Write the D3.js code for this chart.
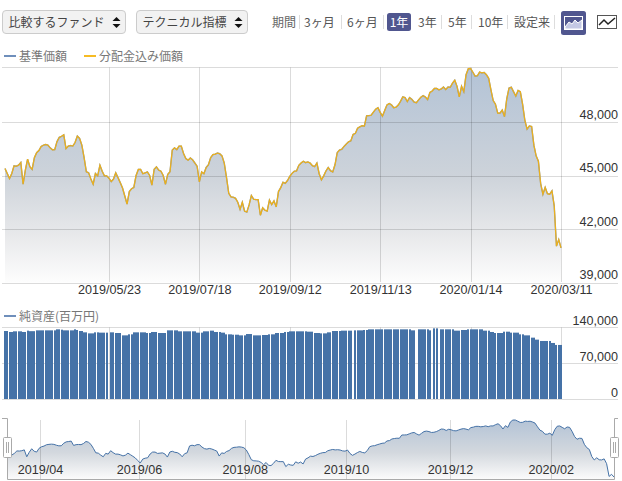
<!DOCTYPE html>
<html><head><meta charset="utf-8">
<script src="https://cdn.jsdelivr.net/npm/d3@7"></script>
<style>
html,body{margin:0;padding:0;background:#fff}
svg{display:block}
text{font-family:"Liberation Sans",Arial,sans-serif;}
.jp{font-family:"Noto Sans CJK JP","Liberation Sans",sans-serif;}
.axis path,.axis line{display:none}
.axis text{font-family:"Liberation Sans",Arial,sans-serif;font-size:12.6px;fill:#333}
</style></head><body>
<svg id="c" width="622" height="481"></svg>
<script>
const basePrice=[
45390,45110,44830,45110,45540,45520,45580,45730,44510,45300,
45920,45490,45340,46000,46280,46400,46630,46700,46740,46700,
46550,46440,46450,46900,47140,47200,47280,46510,46650,46680,
46650,46850,47210,47080,46700,46000,45210,45150,44800,44510,
45110,44980,45580,45240,44980,44980,44850,44660,44800,45150,
44880,44600,44300,43850,43400,44100,44260,44330,45000,45340,
45340,45100,45150,45200,45000,44460,45350,45480,45300,45240,
45000,44510,45060,45210,46420,46550,46450,46650,46650,46230,
45950,45860,45980,45880,45700,45520,44640,45200,45100,45450,
45600,46000,46170,46200,46260,46220,46100,45700,44900,44000,
43800,43780,43720,43500,43100,43500,43000,42950,43350,43880,
43670,43650,43650,42770,43190,43050,43000,43620,43370,43580,
43240,44100,44320,44620,44560,44720,44950,45120,45240,45260,
45570,45700,45800,45720,45760,45700,45550,45500,45700,45100,
44760,44980,45250,45450,45270,45200,45600,46280,46430,46470,
46630,46760,46890,46940,47300,47360,47650,47730,47790,47770,
48350,48360,48380,48550,48720,48800,48540,48330,48650,48960,
49040,48960,48800,48830,48950,49160,49410,49370,49150,49370,
49270,49120,49080,49240,49390,49480,49400,49260,49660,49740,
49880,49880,49800,49850,49960,49820,49960,49950,50180,50340,
50000,49410,50000,49700,50650,50990,51000,50790,50570,50590,
50800,50750,50780,50650,50450,49800,49200,49000,48500,48500,
48670,48300,49300,49900,49950,49700,49450,49770,49700,49000,
48100,47600,47780,47750,46700,46100,45800,44550,43950,44330,
43980,43950,44140,43300,41040,41410,40940];
const totalReturnPrice=basePrice;
const netAssets=[
134100,134100,132200,132200,133500,133500,133500,133500,132200,132200,
134800,133800,133800,133800,135400,135400,135400,135400,135400,135400,
135400,135400,135400,137400,137400,136700,135400,135400,135400,135400,
135400,137400,136100,134100,134100,131500,131500,129500,129500,129500,
131500,131500,130900,130900,130900,130900,null,131500,131500,130200,
130200,130200,125600,125600,125600,127600,127600,131500,131500,131500,
131500,131500,131500,130200,130200,132200,132200,132200,130200,130200,
130200,130200,135400,135400,135400,135400,135400,133500,133500,133500,
133500,133500,133500,133500,133500,130900,130900,130900,133500,133500,
133500,134800,134800,132200,132200,132200,130900,130900,127600,127600,
127600,126900,126900,126900,125600,125600,125600,128200,128200,128200,
125600,125600,125600,125600,126300,126300,126300,127600,127600,127600,
130200,130200,130200,130200,132200,132200,133500,133500,133500,133500,
133500,133500,133500,133500,132800,132800,132800,130200,130200,130200,
129500,129500,129500,131500,131500,134100,134100,134100,134100,134800,
134800,134800,134800,134800,null,135400,135400,135400,135400,136100,
136100,137400,137400,137400,137400,137400,137400,137400,137400,137400,
137400,137400,137400,137400,137400,137400,137400,137400,137400,137400,
135400,135400,null,137400,137400,137400,137400,137400,135400,null,
139300,139300,null,137400,137400,137400,137400,137400,137400,134800,
134800,134800,136100,136100,136100,137400,137400,137400,137400,137400,
137400,137400,134800,134800,134800,132200,132200,130200,130200,130200,
130200,132800,132800,132800,130900,130900,130900,130900,127600,127600,
125600,125600,125600,121100,121100,117200,117200,114600,114600,114600,
114600,114600,110700,110700,106800,106800,106800];
const priceTicks=[39000,42000,45000,48000];
const assetTicks=[0,70000,140000];
const dateTickIndex=[46,86,126,166,206,246];
const dateTickLabels=["2019/05/23","2019/07/18","2019/09/12","2019/11/13","2020/01/14","2020/03/11"];
const navTickIndex=[13.4,53.5,96.4,137.4,179.5,220.4];
const navTickLabels=["2019/04","2019/06","2019/08","2019/10","2019/12","2020/02"];
const periods=["3ヶ月","6ヶ月","1年","3年","5年","10年","設定来"];
const periodX=[304,347,399,418,448,478,514];
const periodSep=[299,341,383,441,471,507,554];

const svg=d3.select("#c");
const defs=svg.append("defs");
function grad(id,stops){const g=defs.append("linearGradient").attr("id",id).attr("x1",0).attr("x2",0).attr("y1",0).attr("y2",1);
 stops.forEach(s=>g.append("stop").attr("offset",s[0]).attr("stop-color",s[1]));}
grad("mainFill",[[0,"#b3c3d6"],[0.5,"#cdd3da"],[0.78,"#e8e9eb"],[1,"#fdfdfd"]]);
grad("navFill",[[0,"#b3c3d6"],[0.55,"#d3d8de"],[1,"#fbfbfb"]]);

const n=basePrice.length;
const x=d3.scaleLinear().domain([0,n-1]).range([5,561]);
const y=d3.scaleLinear().domain([39000,48000]).range([282.5,122]);
const yA=d3.scaleLinear().domain([0,140000]).range([399.5,328]);
const xN=d3.scaleLinear().domain([0,n-1]).range([7,614]);
const yN=d3.scaleLinear().domain([40940,51000]).range([477,420]);

const GRID="rgba(0,0,0,0.14)";
const main=svg.append("g");
main.append("path").datum(basePrice).attr("fill","url(#mainFill)")
 .attr("d",d3.area().x((d,i)=>x(i)).y0(282.5).y1(d=>y(d)));
const hline=(g,yy,x1=2,x2=618)=>g.append("line").attr("x1",x1).attr("x2",x2).attr("y1",yy).attr("y2",yy).attr("stroke",GRID);
hline(main,67.5);
priceTicks.forEach(t=>hline(main,Math.round(y(t))+0.5));
dateTickIndex.forEach(i=>main.append("line").attr("x1",Math.round(x(i))+.5).attr("x2",Math.round(x(i))+.5).attr("y1",67.5).attr("y2",282).attr("stroke",GRID));
const ln=d3.line().x((d,i)=>x(i)).y(d=>y(d));
main.append("path").datum(basePrice).attr("fill","none").attr("stroke","#8c9cb0").attr("stroke-width",1.4).attr("d",ln);
main.append("path").datum(totalReturnPrice).attr("fill","none").attr("stroke","#ecb01a").attr("stroke-width",1.2).attr("d",ln);
const ax=svg.append("g").attr("class","axis").attr("transform","translate(0,282)")
 .call(d3.axisBottom(x).tickValues(dateTickIndex).tickSize(0).tickPadding(2).tickFormat((d,i)=>dateTickLabels[i]));
ax.selectAll("text").attr("y",3).attr("dy","0.71em");
const ay=svg.append("g").attr("class","axis").attr("transform","translate(618,0)")
 .call(d3.axisLeft(y).tickValues(priceTicks).tickSize(0).tickPadding(0).tickFormat(d3.format(",")));
ay.selectAll("text").attr("x",0).attr("dy","-4px").attr("text-anchor","end");

const bars=svg.append("g");
hline(bars,327.5);hline(bars,363.5);hline(bars,399.5);
dateTickIndex.forEach(i=>bars.append("line").attr("x1",Math.round(x(i))+.5).attr("x2",Math.round(x(i))+.5).attr("y1",327.5).attr("y2",399).attr("stroke",GRID));
bars.selectAll("rect").data(netAssets.map((v,i)=>({v,i})).filter(d=>d.v!==null)).join("rect")
 .attr("x",d=>Math.round(x(d.i)-1)).attr("width",2).attr("y",d=>yA(d.v)).attr("height",d=>yA(0)-yA(d.v)-0.5).attr("fill","#4572a7");
const ab=svg.append("g").attr("class","axis").attr("transform","translate(618,0)")
 .call(d3.axisLeft(yA).tickValues(assetTicks).tickSize(0).tickPadding(0).tickFormat(d3.format(",")));
ab.selectAll("text").attr("x",0).attr("dy","-3.5px").attr("text-anchor","end");

const nav=svg.append("g");
nav.append("path").datum(basePrice).attr("fill","url(#navFill)")
 .attr("d",d3.area().x((d,i)=>xN(i)).y0(479).y1(d=>yN(d)));
navTickIndex.forEach(i=>nav.append("line").attr("x1",Math.round(xN(i))+.5).attr("x2",Math.round(xN(i))+.5).attr("y1",420).attr("y2",479).attr("stroke",GRID));
nav.append("path").datum(basePrice).attr("fill","none").attr("stroke","#4572a7").attr("stroke-width",1)
 .attr("d",d3.line().x((d,i)=>xN(i)).y(d=>yN(d)));
const an=svg.append("g").attr("class","axis").attr("transform","translate(0,463)")
 .call(d3.axisBottom(xN).tickValues(navTickIndex).tickSize(0).tickPadding(0).tickFormat((d,i)=>navTickLabels[i]));
an.selectAll("text").attr("y",2).attr("dy","0.71em");
const FR="#aaa";
nav.append("path").attr("fill","none").attr("stroke",FR).attr("d","M2,418.5H7.5V479.5H614.5V418.5H618");
[3.5,610.5].forEach(hx=>{
 nav.append("rect").attr("x",hx).attr("y",437.5).attr("width",8).attr("height",20).attr("rx",1).attr("fill","#fff").attr("stroke",FR);
 nav.append("path").attr("stroke",FR).attr("d",`M${hx+3},442V453M${hx+5},442V453`);
});

function legend(x1,x2,yy,color,label,tx){
 svg.append("line").attr("x1",x1).attr("x2",x2).attr("y1",yy).attr("y2",yy).attr("stroke",color).attr("stroke-width",2);
 svg.append("text").attr("class","jp").attr("x",tx).attr("y",yy+4.5).attr("font-size",12).attr("fill","#777").text(label);
}
legend(4,16,56,"#6f8fbb","基準価額",19);
legend(84,96,56,"#f6bb24","分配金込み価額",99);
legend(4,16,316,"#6f8fbb","純資産(百万円)",19);

function sel(x0,w,label){
 svg.append("rect").attr("x",x0).attr("y",10.5).attr("width",w).attr("height",23).attr("rx",3.5).attr("fill","#f2f2f2").attr("stroke","#ccc");
 svg.append("text").attr("class","jp").attr("x",x0+6).attr("y",26.5).attr("font-size",12).attr("fill","#444").text(label);
 const ax=x0+w-9;
 svg.append("path").attr("fill","#111").attr("d",`M${ax-4},21L${ax},17L${ax+4},21ZM${ax-4},24L${ax},28L${ax+4},24Z`);
}
sel(2.5,123,"比較するファンド");
sel(136.5,111,"テクニカル指標");
svg.append("text").attr("class","jp").attr("x",272).attr("y",26.5).attr("font-size",12).attr("fill","#666").text("期間");
periodSep.forEach(s=>svg.append("line").attr("x1",s+.5).attr("x2",s+.5).attr("y1",15).attr("y2",29).attr("stroke","#ddd"));
svg.append("rect").attr("x",387).attr("y",13).attr("width",24).attr("height",18).attr("rx",2.5).attr("fill","#50568f");
periods.forEach((p,i)=>svg.append("text").attr("class","jp").attr("x",periodX[i]).attr("y",27).attr("font-size",12)
 .attr("fill",p==="1年"?"#fff":"#555").attr("text-anchor",p==="1年"?"middle":"start").text(p));
svg.append("rect").attr("x",561).attr("y",11).attr("width",25).attr("height",24).attr("rx",2.5).attr("fill","#50568f");
svg.append("rect").attr("x",564.5).attr("y",16.5).attr("width",18).attr("height",13).attr("fill","none").attr("stroke","#fff");
svg.append("path").attr("fill","#c4c8e4").attr("stroke","#fff").attr("d","M565,27L569,22L572,24L575,20L578,23L582,20V29H565Z");
svg.append("rect").attr("x",597.5).attr("y",15.5).attr("width",19).attr("height",13).attr("fill","#fff").attr("stroke","#555");
svg.append("path").attr("fill","none").attr("stroke","#222").attr("stroke-width",1.5).attr("d","M599,25L604,20L608,24L615,18");
</script></body></html>
